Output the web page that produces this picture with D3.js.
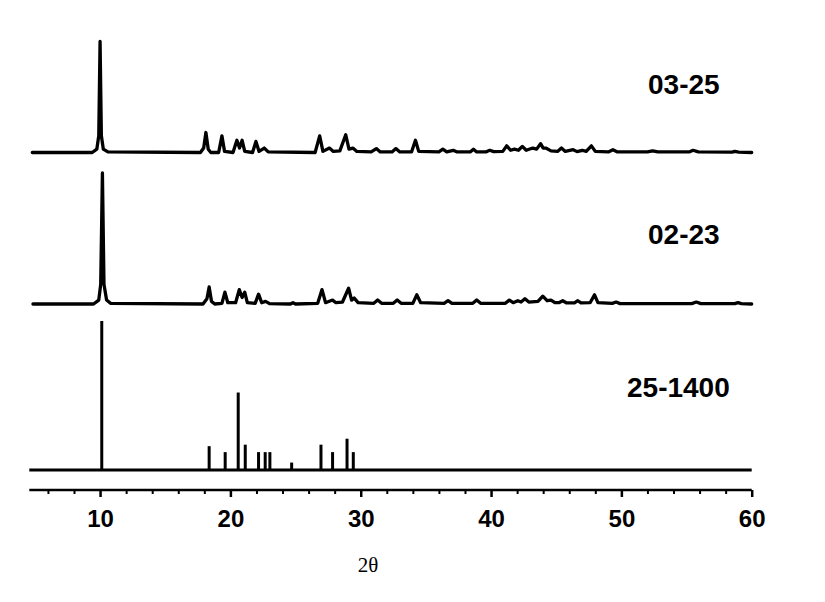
<!DOCTYPE html>
<html>
<head>
<meta charset="utf-8">
<script src="https://cdn.jsdelivr.net/npm/d3@7"></script>
<style>
  html, body { margin: 0; padding: 0; background: #fff; }
  svg { display: block; }
</style>
</head>
<body>
<svg id="chart" width="825" height="602"></svg>
<script>
// ---- Data ----
// Sample names
const seriesNames = ["03-25", "02-23", "25-1400"];

// Measured pattern 03-25: [2theta, relative intensity]
const pattern0325 = [
  [4.8,0],[9.4,0],[9.75,3],[9.9,15],[10.0,100],[10.1,15],[10.25,3],[10.6,0.5],
  [17.7,0],[17.95,4],[18.12,18],[18.3,3],[18.5,0],[19.1,0],[19.35,15],[19.55,1],
  [20.2,0],[20.5,11],[20.7,4],[20.9,11],[21.1,1],[21.7,0],[21.96,10],[22.2,1],
  [22.6,4],[22.9,0.5],[26.5,0],[26.85,15],[27.1,1],[27.6,4],[27.9,1],[28.4,1.5],
  [28.85,16],[29.1,3],[29.4,4],[29.7,1],[30.8,0.5],[31.2,3.5],[31.5,0.5],[32.4,0.5],
  [32.7,3.5],[33.0,0.5],[33.9,0.5],[34.2,11],[34.45,1],[36.0,0.5],[36.3,3],[36.6,0.5],
  [37.1,2],[37.4,0.5],[38.4,0.5],[38.65,3],[38.9,0.5],[39.6,0.5],[39.9,2],[40.2,0.8],
  [40.9,1],[41.2,6],[41.5,2],[41.8,3],[42.1,2],[42.4,5.5],[42.7,2],[43.2,4],[43.5,3],
  [43.8,8],[44.0,4],[44.2,4],[44.6,1.5],[45.1,1],[45.4,4],[45.7,1],[46.3,2.5],[46.6,0.8],
  [47.0,2],[47.3,1],[47.7,6],[48.0,1],[49.0,0.5],[49.35,2.5],[49.7,0.5],[52.0,0.5],
  [52.4,1.5],[52.8,0.5],[55.2,0.5],[55.5,2],[55.9,0.5],[58.5,0.3],[58.7,1],[59.0,0.3],[60,0]
];

// Measured pattern 02-23
const pattern0223 = [
  [4.85,0],[9.5,0],[9.9,3],[10.05,15],[10.18,100],[10.3,15],[10.5,3],[10.8,0.5],
  [17.9,0],[18.2,4],[18.37,13],[18.55,2],[18.8,0],[19.35,0.5],[19.58,9],[19.8,1],
  [20.4,1],[20.68,11],[20.9,5],[21.1,9],[21.3,1],[21.9,0.5],[22.16,7.5],[22.4,1],
  [22.7,2],[23.0,0.3],[24.6,0],[24.8,1],[25.0,0],[26.7,0.5],[27.03,11],[27.3,1],
  [27.84,3],[28.1,1],[28.6,1.5],[29.07,12],[29.3,3],[29.5,4.5],[29.8,1],[31.0,0.5],
  [31.3,3],[31.6,0.5],[32.5,0.5],[32.8,3],[33.1,0.5],[34.0,0.5],[34.3,7],[34.6,1],
  [36.4,0.5],[36.7,2.5],[37.0,0.5],[38.6,0.5],[38.9,3],[39.2,0.5],[41.1,0.5],[41.4,3],
  [41.7,1],[42.05,2.5],[42.3,1.5],[42.6,4],[42.9,1.5],[43.6,2],[43.97,6],[44.3,2.5],
  [44.6,3],[44.9,1],[45.2,1],[45.5,2.5],[45.8,0.8],[46.4,0.8],[46.66,2.5],[46.9,0.8],
  [47.6,1],[47.94,7],[48.2,1],[49.3,0.5],[49.6,1.5],[49.9,0.3],[55.4,0.3],[55.75,1.5],
  [56.1,0.3],[58.7,0.3],[58.95,1],[59.2,0.3],[60,0]
];

// Reference card 25-1400 stick pattern: [2theta, relative intensity]
const card251400 = [
  [10.13,100],[18.37,16],[19.6,12],[20.6,52],[21.14,17],[22.16,12],[22.67,12],
  [23.03,12],[24.7,5],[26.95,17],[27.84,12],[28.95,21],[29.43,12]
];

// Axis
const xDomain = [4.57, 60];
const majorTicks = [10, 20, 30, 40, 50, 60];
const minorTicks = [6, 8, 12, 14, 16, 18, 22, 24, 26, 28, 32, 34, 36, 38, 42, 44, 46, 48, 52, 54, 56, 58];
const xTitle = "2θ";

// ---- Drawing ----
const svg = d3.select("#chart");
const x = d3.scaleLinear().domain(xDomain).range([29.3, 751.7]);

const yTop = d3.scaleLinear().domain([0, 100]).range([152.5, 41.5]);
const yMid = d3.scaleLinear().domain([0, 100]).range([304, 173]);
const yBot = d3.scaleLinear().domain([0, 100]).range([470, 321]);

function drawPattern(data, y) {
  const line = d3.line().x(d => x(d[0])).y(d => y(d[1]));
  svg.append("path")
    .datum(data)
    .attr("d", line)
    .attr("fill", "none")
    .attr("stroke", "#000")
    .attr("stroke-width", 3.3)
    .attr("stroke-linejoin", "round")
    .attr("stroke-linecap", "round");
}
drawPattern(pattern0325, yTop);
drawPattern(pattern0223, yMid);

// Stick pattern baseline
svg.append("line")
  .attr("x1", x(xDomain[0])).attr("x2", x(60))
  .attr("y1", yBot(0)).attr("y2", yBot(0))
  .attr("stroke", "#000").attr("stroke-width", 2.8);

svg.append("g").selectAll("line")
  .data(card251400)
  .join("line")
  .attr("x1", d => x(d[0])).attr("x2", d => x(d[0]))
  .attr("y1", yBot(0)).attr("y2", d => yBot(d[1]))
  .attr("stroke", "#000").attr("stroke-width", 3);

// Labels
const labelPos = [[648, 94], [648, 244], [627, 397]];
svg.append("g").selectAll("text")
  .data(seriesNames)
  .join("text")
  .attr("x", (d, i) => labelPos[i][0])
  .attr("y", (d, i) => labelPos[i][1])
  .attr("font-family", "'Liberation Sans', Arial, sans-serif")
  .attr("font-weight", "bold")
  .attr("font-size", 28)
  .attr("fill", "#000")
  .text(d => d);

// X axis
const axisY = 490;
const gx = svg.append("g").attr("transform", `translate(0,${axisY})`);
const axisMajor = d3.axisBottom(x).tickValues(majorTicks).tickSize(7).tickPadding(13).tickFormat(d3.format("d"));
gx.call(axisMajor);
gx.select(".domain").attr("stroke-width", 2.5).attr("d", `M${x(xDomain[0])},0H${x(60)}`);
gx.selectAll(".tick line").attr("stroke-width", 2.5);
gx.selectAll(".tick text")
  .attr("font-family", "'Liberation Sans', Arial, sans-serif")
  .attr("font-weight", "bold")
  .attr("font-size", 24)
  .attr("fill", "#000");

const gxMinor = svg.append("g").attr("transform", `translate(0,${axisY})`);
gxMinor.call(d3.axisBottom(x).tickValues(minorTicks).tickSize(4).tickFormat(""));
gxMinor.select(".domain").remove();
gxMinor.selectAll(".tick line").attr("stroke-width", 2);

svg.append("text")
  .attr("x", 368).attr("y", 572)
  .attr("text-anchor", "middle")
  .attr("font-family", "'Liberation Serif', 'Times New Roman', serif")
  .attr("font-size", 21)
  .attr("fill", "#000")
  .text(xTitle);
</script>
</body>
</html>
